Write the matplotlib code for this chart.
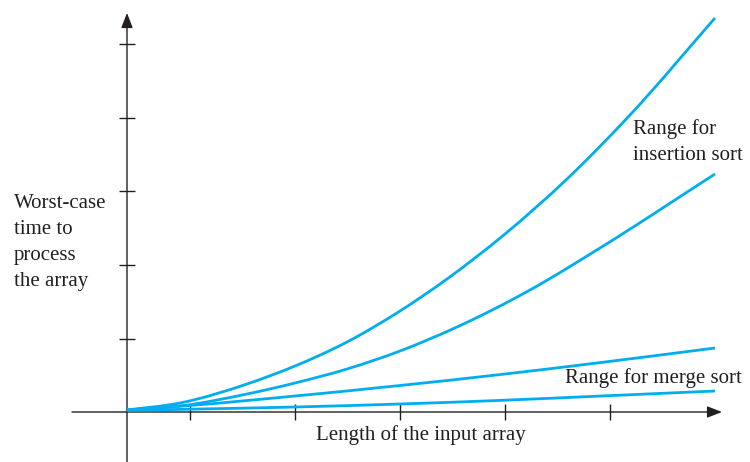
import matplotlib
matplotlib.use("Agg")
import matplotlib.pyplot as plt
from matplotlib.path import Path
from matplotlib.patches import PathPatch

# ==================== DATA ====================
# units: 1 unit ~ 1 px measured from the axis origin
top_x = [0, 53, 120, 168, 220, 273, 320, 378, 440, 503, 588]
top_y = [2, 9, 28, 46, 70, 101, 133, 178, 233, 297, 394]

ins_low_x = [0, 53, 120, 168, 220, 273, 330, 403, 473, 588]
ins_low_y = [2, 6, 18, 29, 43, 61, 85, 122, 164, 238]

merge_hi_x = [0, 63, 168, 273, 378, 470, 588]
merge_hi_y = [2, 6.5, 16, 26.5, 38, 49, 64]

merge_lo_x = [0, 63, 168, 273, 378, 470, 588]
merge_lo_y = [1.5, 2.8, 5, 8, 11.8, 15.8, 21]

x_ticks = [63, 168, 273, 378, 483]
y_ticks = [73, 147, 221, 294, 368]

y_label_lines = ["Worst-case", "time to", "process", "the array"]
x_label = "Length of the input array"
insertion_label = "Range for\ninsertion sort"
merge_label = "Range for merge sort"

# ==================== STYLE ====================
curve_color = "#00aeef"
axis_color = "#231f20"
plt.rcParams["font.family"] = ["Liberation Serif", "DejaVu Serif"]


def smooth_path(xs, ys):
    """Bezier path going through every read point (Hermite tangents)."""
    n = len(xs)
    slopes = []
    for i in range(n):
        if i == 0:
            slopes.append((ys[1] - ys[0]) / (xs[1] - xs[0]))
        elif i == n - 1:
            slopes.append((ys[-1] - ys[-2]) / (xs[-1] - xs[-2]))
        else:
            h0 = xs[i] - xs[i - 1]
            h1 = xs[i + 1] - xs[i]
            d0 = (ys[i] - ys[i - 1]) / h0
            d1 = (ys[i + 1] - ys[i]) / h1
            slopes.append((d0 * h1 + d1 * h0) / (h0 + h1))
    verts = [(xs[0], ys[0])]
    codes = [Path.MOVETO]
    for i in range(n - 1):
        h = xs[i + 1] - xs[i]
        verts += [(xs[i] + h / 3, ys[i] + slopes[i] * h / 3),
                  (xs[i + 1] - h / 3, ys[i + 1] - slopes[i + 1] * h / 3),
                  (xs[i + 1], ys[i + 1])]
        codes += [Path.CURVE4] * 3
    return Path(verts, codes)


fig = plt.figure(figsize=(7.5, 4.62), dpi=100)
ax = fig.add_axes([0, 0, 1, 1])
ax.set_xlim(-127, 623)
ax.set_ylim(-50, 412)

# curves
for xs, ys in [(top_x, top_y), (ins_low_x, ins_low_y),
               (merge_hi_x, merge_hi_y), (merge_lo_x, merge_lo_y)]:
    ax.add_patch(PathPatch(smooth_path(xs, ys), facecolor="none",
                           edgecolor=curve_color, lw=2.0, capstyle="butt", zorder=3))

# axes lines with arrow heads
arrow = dict(arrowstyle="-|>,head_length=0.9,head_width=0.35",
             color=axis_color, lw=1.0, shrinkA=0, shrinkB=0)
ax.annotate("", xy=(595, 0), xytext=(-55, 0), arrowprops=arrow, zorder=2)
ax.annotate("", xy=(0, 399), xytext=(0, -50), arrowprops=arrow, zorder=2)

# ticks on the spines at the origin (spines themselves hidden)
for side in ["bottom", "left"]:
    ax.spines[side].set_position(("data", 0))
    ax.spines[side].set_color("none")
for side in ["top", "right"]:
    ax.spines[side].set_visible(False)
ax.set_xticks(x_ticks)
ax.set_yticks(y_ticks)
ax.tick_params(direction="inout", length=11, width=1.0, color=axis_color,
               labelbottom=False, labelleft=False)

# texts
fs = 15
for i, line in enumerate(y_label_lines):
    ax.text(-113, 208 - i * 25.7, line, fontsize=fs, color=axis_color,
            ha="left", va="center")
ax.text(294, -23, x_label, fontsize=fs, color=axis_color, ha="center", va="center")
ax.text(506, 270, insertion_label, fontsize=fs, color=axis_color,
        ha="left", va="center", linespacing=1.55)
ax.text(438, 34, merge_label, fontsize=fs, color=axis_color, ha="left", va="center")

fig.savefig("out.png", dpi=100)
